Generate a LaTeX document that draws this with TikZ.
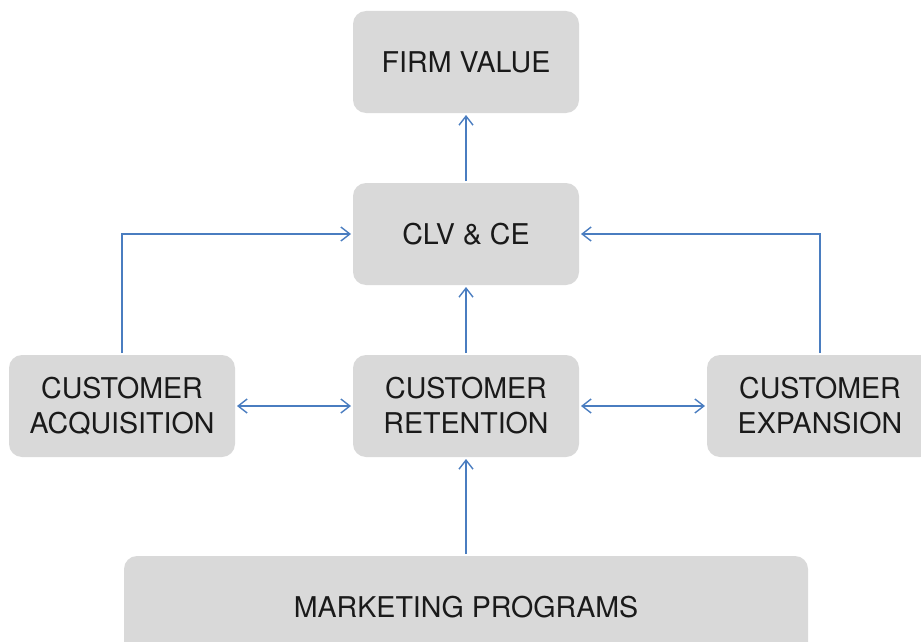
\documentclass[tikz,border=0pt]{standalone}
\usepackage{fontspec}
\setmainfont{TeX Gyre Heros}
\usetikzlibrary{arrows.meta}
\definecolor{boxgray}{HTML}{D9D9D9}
\definecolor{arrowblue}{HTML}{4A7DC0}
\definecolor{txt}{HTML}{1A1A1A}
\begin{document}
\begin{tikzpicture}[x=1pt,y=-1pt,
  box/.style={draw=none, fill=boxgray, rounded corners=13pt, minimum width=226pt, minimum height=102pt,
    inner sep=0pt, outer sep=2pt, align=center, text=txt, font=\fontsize{28.6}{35}\selectfont},
  conn/.style={draw=arrowblue, line width=1.4pt, -{Straight Barb[length=9pt,width=14pt,line width=1.4pt]}},
  conn2/.style={draw=arrowblue, line width=1.4pt, {Straight Barb[length=9pt,width=14pt,line width=1.4pt]}-{Straight Barb[length=9pt,width=14pt,line width=1.4pt]}}]
\useasboundingbox (0,0) rectangle (921,642);
\node[box] (fv) at (466,62) {FIRM VALUE};
\node[box] (clv) at (466,234) {CLV \& CE};
\node[box] (acq) at (122,406) {CUSTOMER\\ACQUISITION};
\node[box] (ret) at (466,406) {CUSTOMER\\RETENTION};
\node[box] (exp) at (820,406) {CUSTOMER\\EXPANSION};
\node[box, minimum width=684pt] (mkt) at (466,607) {MARKETING PROGRAMS};
\draw[conn] (clv) -- (fv);
\draw[conn] (ret) -- (clv);
\draw[conn] (mkt.north) -- (ret.south);
\draw[conn2] (acq) -- (ret);
\draw[conn2] (ret) -- (exp);
\draw[conn] (acq.north) |- (clv.west);
\draw[conn] (exp.north) |- (clv.east);
\end{tikzpicture}
\end{document}
